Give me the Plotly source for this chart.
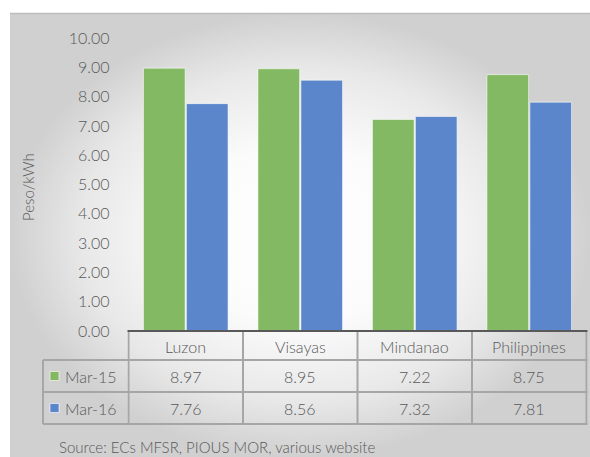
import plotly.graph_objects as go

# ---- data ----
categories = ["Luzon", "Visayas", "Mindanao", "Philippines"]
series_names = ["Mar-15", "Mar-16"]
mar15 = [8.97, 8.95, 7.22, 8.75]
mar16 = [7.76, 8.56, 7.32, 7.81]
y_ticks = [0, 1, 2, 3, 4, 5, 6, 7, 8, 9, 10]
y_title = "Peso/kWh"
source_text = "Source: ECs MFSR, PIOUS MOR, various website"

# ---- styles ----
W, H = 590, 457
GREEN = "rgb(131,185,98)"
BLUE = "rgb(92,134,203)"
TXT = "#595959"
FONT = "Lato"
WT = 300
GRID = "#a6a6a6"

def px(x):
    return x / W

def py(y):
    return 1 - y / H

fig = go.Figure()

# background radial gradient panel (pixel-coordinate helper subplot)
fig.add_trace(go.Scatter(
    x=[10, W, W, 10, 10], y=[0, 0, H - 13, H - 13, 0],
    mode="lines", line=dict(width=0), fill="toself",
    fillgradient=dict(type="radial",
                      colorscale=[[0, "#ffffff"], [0.4, "#fbfbfb"], [0.75, "#e8e8e8"], [1, "#d0d0d0"]]),
    hoverinfo="skip", showlegend=False, xaxis="x", yaxis="y"))

for name, vals, col in [(series_names[0], mar15, GREEN), (series_names[1], mar16, BLUE)]:
    fig.add_trace(go.Bar(
        x=categories, y=vals, name=name, xaxis="x2", yaxis="y2",
        marker=dict(color=col, line=dict(color="rgba(255,255,255,0.55)", width=1)),
        showlegend=False))

x_dom = [127.5 / W, 587.5 / W]
y_dom = [py(331), py(38)]

fig.update_layout(
    width=W, height=H,
    margin=dict(l=0, r=0, t=0, b=0, pad=0),
    paper_bgcolor="white", plot_bgcolor="rgba(0,0,0,0)",
    barmode="group", bargap=0.25, bargroupgap=0.03,
    font=dict(family=FONT, color=TXT, weight=WT),
    xaxis=dict(domain=[0, 1], range=[0, W], visible=False, fixedrange=True, automargin=False),
    yaxis=dict(domain=[0, 1], range=[0, H], visible=False, fixedrange=True, automargin=False),
    xaxis2=dict(domain=x_dom, anchor="y2", showticklabels=False, showgrid=False,
                showline=False, ticks="", zeroline=False, automargin=False),
    yaxis2=dict(domain=y_dom, anchor="x2", range=[0, 10], tickvals=y_ticks,
                tickformat=".2f", showgrid=False, zeroline=False, showline=False,
                ticks="", ticklabelstandoff=17, automargin=False,
                tickfont=dict(family=FONT, size=16, color=TXT, weight=WT)),
)

shapes = []
# top border of the chart panel
shapes.append(dict(type="line", xref="paper", yref="paper", x0=px(10), x1=1,
                   y0=py(13.5), y1=py(13.5), line=dict(color="#bdbdbd", width=1.5)))
# table horizontal lines
for yy in [360, 392, 424]:
    shapes.append(dict(type="line", xref="paper", yref="paper", x0=px(43), x1=px(587.5),
                       y0=py(yy), y1=py(yy), line=dict(color=GRID, width=2)))
# table vertical lines at category boundaries
for i in range(len(categories) + 1):
    shapes.append(dict(type="line", xref="x2", yref="paper", x0=i - 0.5, x1=i - 0.5,
                       y0=py(331), y1=py(424), line=dict(color=GRID, width=2)))
# left column outer border
shapes.append(dict(type="line", xref="paper", yref="paper", x0=px(43), x1=px(43),
                   y0=py(360), y1=py(424), line=dict(color=GRID, width=2)))
# axis baseline
shapes.append(dict(type="line", xref="paper", yref="paper", x0=px(127.5), x1=px(587.5),
                   y0=py(331), y1=py(331), line=dict(color="#595959", width=2)))
# legend swatches
for yy, col in [(376, GREEN), (408, BLUE)]:
    shapes.append(dict(type="rect", xref="paper", yref="paper", x0=px(50), x1=px(59),
                       y0=py(yy - 4.5), y1=py(yy + 4.5), fillcolor=col,
                       line=dict(color="rgba(255,255,255,0.6)", width=1)))

tf = dict(size=16, color=TXT, family=FONT, weight=WT)
ann = []
for c in categories:
    ann.append(dict(x=c, xref="x2", y=py(346), yref="paper", text=c, showarrow=False,
                    font=tf, xanchor="center", yanchor="middle"))
for yy, vals, nm in [(376, mar15, series_names[0]), (408, mar16, series_names[1])]:
    for c, v in zip(categories, vals):
        ann.append(dict(x=c, xref="x2", y=py(yy), yref="paper", text=f"{v:.2f}",
                        showarrow=False, font=tf, xanchor="center", yanchor="middle"))
    ann.append(dict(x=px(63), xref="paper", y=py(yy), yref="paper", text=nm,
                    showarrow=False, font=tf, xanchor="left", yanchor="middle"))
ann.append(dict(x=px(28), xref="paper", y=py(187), yref="paper", text=y_title,
                textangle=-90, showarrow=False, font=dict(size=15, color=TXT, family=FONT, weight=WT),
                xanchor="center", yanchor="middle"))
ann.append(dict(x=px(57), xref="paper", y=py(447), yref="paper", text=source_text,
                showarrow=False, font=dict(size=15, color=TXT, family=FONT, weight=WT),
                xanchor="left", yanchor="middle"))

fig.update_layout(shapes=shapes, annotations=ann)
fig.write_html("out.html")
